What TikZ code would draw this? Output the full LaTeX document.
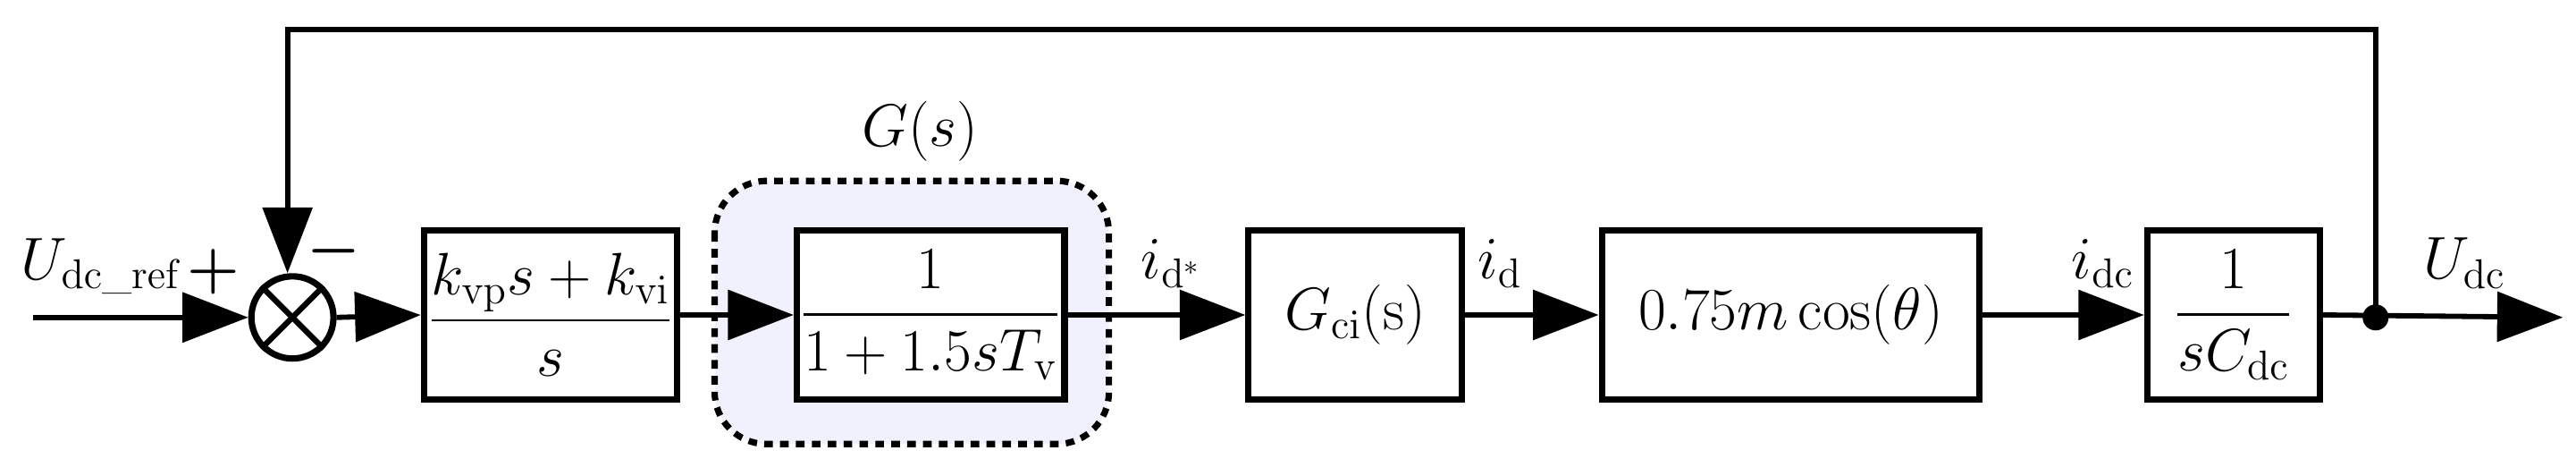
\documentclass[tikz,border=0pt]{standalone}
\usepackage{amsmath,amssymb}
\usetikzlibrary{arrows.meta}
\begin{document}
\begin{tikzpicture}[x=0.02cm,y=-0.02cm,line width=1.8pt,
  blk/.style={draw,line width=2.2pt,inner sep=0pt},
  arr/.style={-{Triangle[length=0.8cm,width=0.6cm]}},
  lbl/.style={font=\fontsize{20}{24}\selectfont,inner sep=0pt},
  every node/.append style={font=\fontsize{20}{24}\selectfont}]
\useasboundingbox (0,0) rectangle (1568,289);
\fill[gray!15!blue!6,rounded corners=18pt] (435,110) rectangle (675,270);
\draw[line width=2.2pt,dash pattern=on 3pt off 2.5pt,rounded corners=18pt] (435,110) rectangle (675,270);
\node[lbl] (gs) at (560,80) {$G(s)$};
\node[circle,draw,line width=2.2pt,minimum size=1.0cm,inner sep=0pt] (sum) at (178,193) {};
\draw[line width=2pt] (sum.north west)--(sum.south east) (sum.north east)--(sum.south west);
\node[blk,minimum width=3.08cm,minimum height=2.06cm] (b1) at (335,191.5) {$\dfrac{k_{\mathrm{vp}}s+k_{\mathrm{vi}}}{s}$};
\node[blk,minimum width=3.26cm,minimum height=2.06cm,fill=white] (b2) at (566.5,191.5) {$\dfrac{1}{1+1.5sT_{\mathrm{v}}}$};
\node[blk,minimum width=2.6cm,minimum height=2.06cm] (b3) at (825,191.5) {$G_{\mathrm{ci}}(\mathrm{s})$};
\node[blk,minimum width=4.6cm,minimum height=2.06cm] (b4) at (1090,191.5) {$0.75m\cos(\theta)$};
\node[blk,minimum width=2.1cm,minimum height=2.06cm] (b5) at (1359.5,191.5) {$\dfrac{1}{sC_{\mathrm{dc}}}$};
\coordinate (in) at (20,193);
\coordinate (tap) at (1446,193);
\coordinate (out) at (1560,193);
\coordinate (tr) at (1446,18);
\coordinate (tl) at (175,18);
\fill (tap) circle (4.5pt);
\draw[arr] (in) -- (sum.west);
\draw[arr] (sum.east) -- (b1.west);
\draw[arr] (b1.east) -- (b2.west);
\draw[arr] (b2.east) -- (b3.west);
\draw[arr] (b3.east) -- (b4.west);
\draw[arr] (b4.east) -- (b5.west);
\draw[arr] (b5.east) -- (out);
\draw[arr] (tap) -- (tr) -- (tl) -- (tl|-sum.north);
\node[lbl] (uref) at (62,162) {$U_{\mathrm{dc\_ref}}$};
\node[lbl] (plus) at (130,165) {$\boldsymbol{+}$};
\node[lbl] (minus) at (203,153) {$\boldsymbol{-}$};
\node[lbl] (id1) at (713,160) {$i_{\mathrm{d}^*}$};
\node[lbl] (id2) at (913,160) {$i_{\mathrm{d}}$};
\node[lbl] (idc) at (1280,160) {$i_{\mathrm{dc}}$};
\node[lbl] (udc) at (1500,160) {$U_{\mathrm{dc}}$};
\end{tikzpicture}
\end{document}
